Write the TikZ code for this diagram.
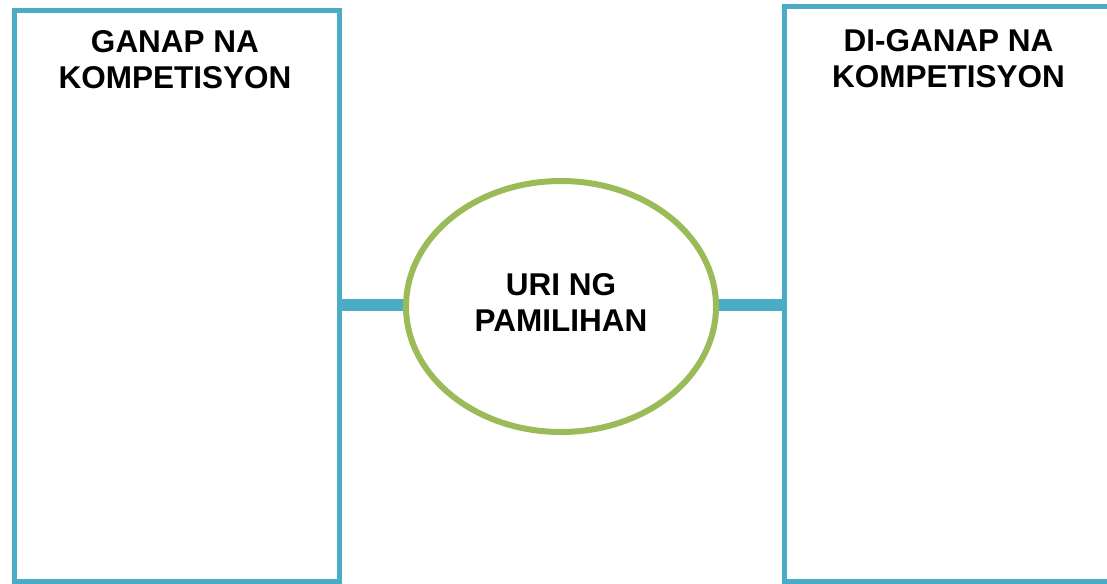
\documentclass[tikz,border=0pt]{standalone}
\usepackage{fontspec}
\setmainfont{Liberation Sans}
\usetikzlibrary{shapes.geometric}
\definecolor{boxblue}{HTML}{4BACC6}
\definecolor{ringgreen}{HTML}{9BBB59}
\tikzset{
	sidebox/.style={draw=boxblue, line width=5pt, rectangle, inner sep=0pt},
	title/.style={font=\fontsize{31.5}{36}\selectfont\bfseries, align=center, inner sep=0pt},
	bar/.style={draw=boxblue, line width=12pt}
}

\begin{document}
\begin{tikzpicture}[x=1pt,y=-1pt]
	\useasboundingbox (0,0) rectangle (1107,583);
	%side boxes
		\node[sidebox, minimum width=325.5pt, minimum height=570pt] (ganap) at (176.75,296) {};
		\node[sidebox, minimum width=336pt, minimum height=574pt] (diganap) at (952,294) {};
	%box titles
		\node[title, anchor=north] (ganaptitle) at (175,30) {GANAP NA\\KOMPETISYON};
		\node[title, anchor=north] (diganaptitle) at (948.5,29) {DI-GANAP NA\\KOMPETISYON};
	%middle ellipse
		\node[ellipse, draw=ringgreen, line width=6pt, minimum width=310pt, minimum height=251pt, inner sep=0pt] (uri) at (561,306.5) {};
		\node[title] (uritext) at (561,302) {URI NG\\PAMILIHAN};
	%links
		\draw[bar] (ganap.east |- 0,305) -- (uri.west |- 0,305);
		\draw[bar] (uri.east |- 0,305) -- (diganap.west |- 0,305);
\end{tikzpicture}
\end{document}
